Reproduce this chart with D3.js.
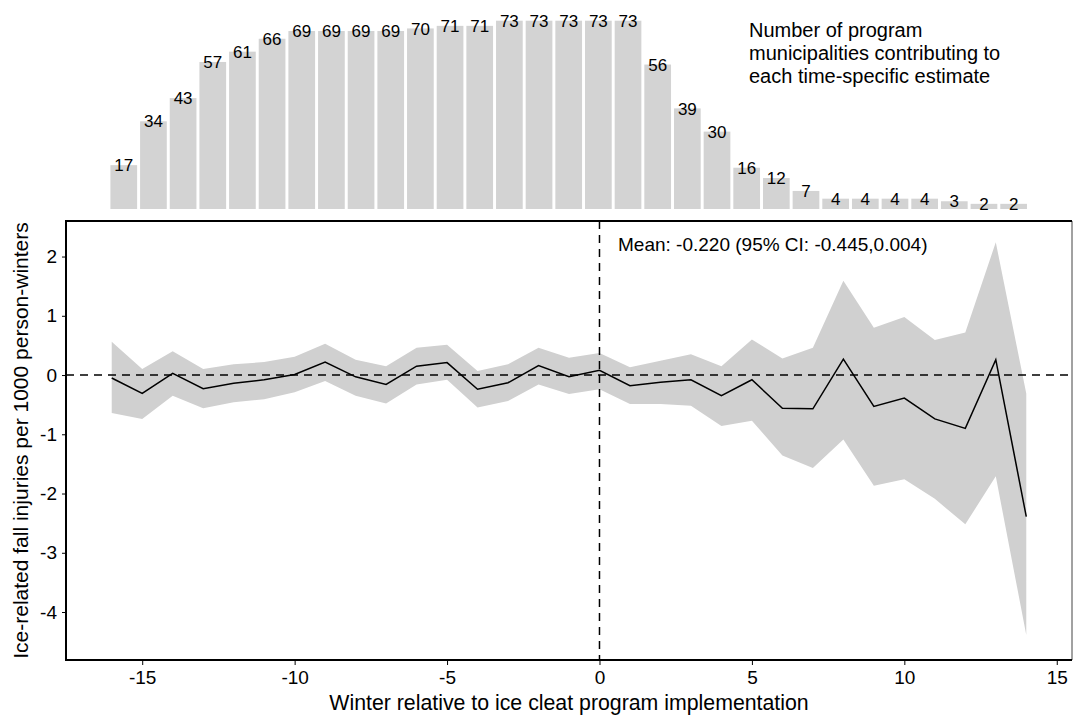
<!DOCTYPE html>
<html>
<head>
<meta charset="utf-8">
<script src="https://cdn.jsdelivr.net/npm/d3@7"></script>
<style>
  body { margin: 0; background: #fff; }
  svg text { font-family: Arial, "Liberation Sans", sans-serif; fill: #000; }
</style>
</head>
<body>
<svg id="chart" width="1073" height="715"></svg>
<script>
// winters relative to program start
const winters = d3.range(-16, 15);
// number of municipalities per winter
const counts = [17, 34, 43, 57, 61, 66, 69, 69, 69, 69, 70, 71, 71, 73, 73, 73, 73, 73,
                56, 39, 30, 16, 12, 7, 4, 4, 4, 4, 3, 2, 2];
// point estimates
const estimate = [-0.05, -0.31, 0.03, -0.23, -0.14, -0.08, 0.01, 0.22, -0.03, -0.16,
                  0.15, 0.21, -0.24, -0.13, 0.16, -0.03, 0.08, -0.18, -0.12, -0.08,
                  -0.35, -0.08, -0.56, -0.57, 0.27, -0.53, -0.39, -0.74, -0.90, 0.26, -2.39];
// 95% CI bounds
const ciLow = [-0.64, -0.74, -0.35, -0.56, -0.46, -0.41, -0.29, -0.10, -0.35, -0.48,
               -0.16, -0.08, -0.55, -0.44, -0.16, -0.32, -0.24, -0.49, -0.49, -0.52,
               -0.86, -0.77, -1.36, -1.57, -1.09, -1.87, -1.76, -2.09, -2.52, -1.71, -4.39];
const ciHigh = [0.56, 0.10, 0.40, 0.10, 0.18, 0.22, 0.31, 0.53, 0.26, 0.15,
                0.46, 0.51, 0.07, 0.18, 0.46, 0.29, 0.37, 0.13, 0.24, 0.35,
                0.15, 0.60, 0.28, 0.46, 1.59, 0.80, 0.98, 0.59, 0.72, 2.24, -0.31];
const xTicks = [-15, -10, -5, 0, 5, 10, 15];
const yTicks = [2, 1, 0, -1, -2, -3, -4];
const meanLabel = "Mean: -0.220 (95% CI: -0.445,0.004)";
const legendLines = ["Number of program", "municipalities contributing to", "each time-specific estimate"];

const svg = d3.select("#chart");
const rows = winters.map((w, i) => ({ w, n: counts[i], est: estimate[i], lo: ciLow[i], hi: ciHigh[i] }));

const plot = { left: 66, right: 1072, top: 221, bottom: 660 };
const x = d3.scaleLinear().domain([-17.5, 15.5]).range([plot.left, plot.right]);
const y = d3.scaleLinear().domain([-4.81, 2.6]).range([plot.bottom, plot.top]);

// ==== top bars ====
const xBand = d3.scaleBand().domain(winters).range([x(-16) - 1.3, x(14) + 0.7]).paddingInner(0.1);
const yBar = d3.scaleLinear().domain([0, 73]).range([209, 20.7]);

const bars = svg.append("g");
bars.selectAll("rect").data(rows).join("rect")
  .attr("x", d => xBand(d.w))
  .attr("width", xBand.bandwidth())
  .attr("y", d => yBar(d.n))
  .attr("height", d => yBar(0) - yBar(d.n))
  .attr("fill", "#d3d3d3");

bars.selectAll("text").data(rows).join("text")
  .attr("x", d => xBand(d.w) + xBand.bandwidth() / 2)
  .attr("y", d => yBar(d.n))
  .attr("dy", "0.36em")
  .attr("text-anchor", "middle")
  .attr("font-size", 17)
  .text(d => d.n);

svg.append("text")
  .attr("x", 749)
  .attr("y", 37)
  .attr("font-size", 20)
  .selectAll("tspan").data(legendLines).join("tspan")
  .attr("x", 749)
  .attr("dy", (d, i) => i === 0 ? 0 : 23)
  .text(d => d);

// ==== main panel ====
const g = svg.append("g");

g.append("path")
  .datum(rows)
  .attr("fill", "#d0d0d0")
  .attr("d", d3.area().x(d => x(d.w)).y0(d => y(d.lo)).y1(d => y(d.hi)));

g.append("line")
  .attr("x1", plot.left).attr("x2", plot.right)
  .attr("y1", y(0)).attr("y2", y(0))
  .attr("stroke", "#000").attr("stroke-width", 1.5)
  .attr("stroke-dasharray", "8,6");

g.append("line")
  .attr("x1", x(0)).attr("x2", x(0))
  .attr("y1", plot.top).attr("y2", plot.bottom)
  .attr("stroke", "#000").attr("stroke-width", 1.5)
  .attr("stroke-dasharray", "8,6");

g.append("path")
  .datum(rows)
  .attr("fill", "none")
  .attr("stroke", "#000")
  .attr("stroke-width", 1.5)
  .attr("d", d3.line().x(d => x(d.w)).y(d => y(d.est)));

g.append("text")
  .attr("x", 618)
  .attr("y", 251)
  .attr("font-size", 19)
  .text(meanLabel);

// frame
svg.append("line")
  .attr("x1", plot.right).attr("x2", plot.right)
  .attr("y1", plot.top).attr("y2", plot.bottom)
  .attr("stroke", "#444").attr("stroke-width", 1);
svg.append("path")
  .attr("d", `M${plot.right},${plot.top}H${plot.left}V${plot.bottom}H${plot.right}`)
  .attr("fill", "none").attr("stroke", "#000").attr("stroke-width", 2);

// axes (plain hyphen minus, like the original)
const xAxis = svg.append("g")
  .attr("transform", `translate(0,${plot.bottom})`)
  .call(d3.axisBottom(x).tickValues(xTicks).tickFormat(d => String(d)).tickSize(5).tickPadding(6));
const yAxis = svg.append("g")
  .attr("transform", `translate(${plot.left},0)`)
  .call(d3.axisLeft(y).tickValues(yTicks).tickFormat(d => String(d)).tickSize(4).tickPadding(5));
[xAxis, yAxis].forEach(a => {
  a.select(".domain").remove();
  a.selectAll("line").attr("stroke", "#000").attr("stroke-width", 1);
  a.selectAll("text").attr("font-size", 19).attr("font-family", "Arial, 'Liberation Sans', sans-serif").attr("fill", "#000");
});

svg.append("text")
  .attr("x", (plot.left + plot.right) / 2)
  .attr("y", 710)
  .attr("text-anchor", "middle")
  .attr("font-size", 21.3)
  .text("Winter relative to ice cleat program implementation");

svg.append("text")
  .attr("transform", `translate(28,${(plot.top + plot.bottom) / 2}) rotate(-90)`)
  .attr("text-anchor", "middle")
  .attr("font-size", 21)
  .text("Ice-related fall injuries per 1000 person-winters");
</script>
</body>
</html>
